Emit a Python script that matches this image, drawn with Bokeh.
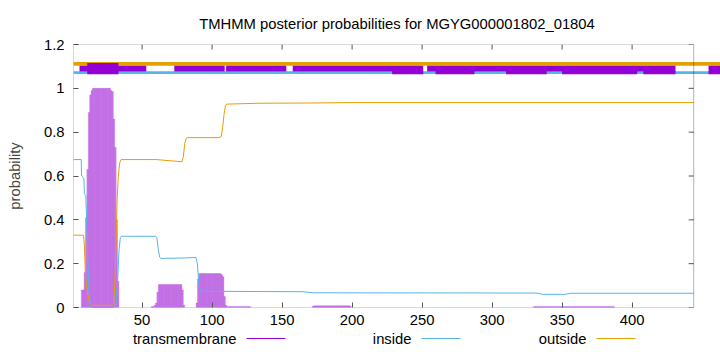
from bokeh.plotting import figure
from bokeh.models import Range1d, FixedTicker, LinearAxis, BoxAnnotation
from bokeh.layouts import column
from bokeh.core.properties import value
from bokeh.embed import file_html
from bokeh.resources import INLINE

# ---------------- data ----------------
title_text = "TMHMM posterior probabilities for MGYG000001802_01804"
seq_len = 444
x_ticks = [50, 100, 150, 200, 250, 300, 350, 400]
y_ticks = [0, 0.2, 0.4, 0.6, 0.8, 1.0, 1.2]
y_tick_labels = ["0", "0.2", "0.4", "0.6", "0.8", "1", "1.2"]
legend_names = ["transmembrane", "inside", "outside"]

# transmembrane posterior (impulses)
tm_pos_1 = list(range(7, 34))
tm_prob_1 = [0.08, 0.08, 0.16, 0.41, 0.63, 0.89, 0.97, 0.99,
             1.0, 1.0, 1.0, 1.0, 1.0, 1.0, 1.0, 1.0, 1.0, 1.0, 1.0, 1.0, 1.0,
             0.99, 0.985, 0.86, 0.73, 0.40, 0.12]
tm_pos_2 = list(range(57, 81))
tm_prob_2 = [0.005, 0.005, 0.01, 0.02, 0.07,
             0.105, 0.105, 0.105, 0.105, 0.105, 0.105, 0.105, 0.105, 0.105,
             0.105, 0.105, 0.105, 0.105, 0.105, 0.105, 0.105, 0.105,
             0.08, 0.01]
tm_pos_3 = list(range(89, 111))
tm_prob_3 = [0.02, 0.13,
             0.155, 0.155, 0.155, 0.155, 0.155, 0.155, 0.155, 0.155,
             0.155, 0.155, 0.155, 0.155, 0.155, 0.155, 0.155, 0.155,
             0.15, 0.14, 0.05, 0.01]
tm_pos_4 = list(range(111, 128))
tm_prob_4 = [0.004, 0.004, 0.004, 0.004, 0.004, 0.004, 0.004, 0.004, 0.004,
             0.004, 0.004, 0.004, 0.004, 0.004, 0.004, 0.004, 0.004]
tm_pos_5 = list(range(172, 200))
tm_prob_5 = [0.006, 0.008, 0.008, 0.008, 0.008, 0.008, 0.008, 0.008, 0.008, 0.008,
             0.008, 0.008, 0.008, 0.008, 0.008, 0.008, 0.008, 0.008, 0.008, 0.008,
             0.008, 0.008, 0.008, 0.008, 0.008, 0.008, 0.008, 0.006]
tm_pos_6 = list(range(330, 388))
tm_prob_6 = [0.004, 0.004, 0.004, 0.004, 0.004, 0.004, 0.004, 0.004, 0.004, 0.004,
             0.004, 0.004, 0.004, 0.004, 0.004, 0.004, 0.004, 0.004, 0.004, 0.004,
             0.004, 0.004, 0.004, 0.004, 0.004, 0.004, 0.004, 0.004, 0.004, 0.004,
             0.004, 0.004, 0.004, 0.004, 0.004, 0.004, 0.004, 0.004, 0.004, 0.004,
             0.004, 0.004, 0.004, 0.004, 0.004, 0.004, 0.004, 0.004, 0.004, 0.004,
             0.004, 0.004, 0.004, 0.004, 0.004, 0.004, 0.004, 0.004]
tm_pos = tm_pos_1 + tm_pos_2 + tm_pos_3 + tm_pos_4 + tm_pos_5 + tm_pos_6
tm_prob = tm_prob_1 + tm_prob_2 + tm_prob_3 + tm_prob_4 + tm_prob_5 + tm_prob_6

# inside posterior (line)
inside_pos = [1, 6.5, 6.8, 8.4, 8.8, 9.8, 10.3, 11, 12, 13, 14, 29.5, 30.5, 31.5,
              32.5, 33.5, 34.5, 35.5, 59.5, 60.5, 61.5, 62.5, 63.5, 80, 88.5, 89.5,
              90.5, 91.5, 92.5, 130, 165, 172, 332, 336, 352, 356, 444]
inside_prob = [0.675, 0.675, 0.60, 0.59, 0.52, 0.51, 0.41, 0.25, 0.08, 0.01, 0.0,
               0.0, 0.005, 0.03, 0.12, 0.26, 0.32, 0.325, 0.325, 0.32, 0.27, 0.23,
               0.224, 0.226, 0.228, 0.2, 0.11, 0.078, 0.074, 0.073, 0.072, 0.067,
               0.066, 0.06, 0.06, 0.065, 0.065]

# outside posterior (line)
outside_pos = [1, 8.2, 8.8, 9.5, 10.5, 11.5, 12.5, 14, 29, 29.8, 30.6, 31.4, 32.2,
               33, 34, 35, 60, 78.5, 79.5, 80.5, 81.5, 82.5, 105, 106.5, 107.5,
               108.5, 109.5, 110.5, 134, 170, 200, 444]
outside_prob = [0.33, 0.33, 0.28, 0.15, 0.09, 0.05, 0.02, 0.01, 0.01, 0.03, 0.12,
                0.3, 0.5, 0.6, 0.66, 0.675, 0.675, 0.665, 0.69, 0.75, 0.772, 0.775,
                0.775, 0.78, 0.82, 0.88, 0.92, 0.928, 0.932, 0.933, 0.935, 0.935]

# topology bands at the top (start/end residues)
outside_band_start = [1]
outside_band_end = [463.2]
inside_band_start = [1]
inside_band_end = [463.2]
tm_band_start = [5.3, 73, 110, 157.6, 253.6, 454.6]
tm_band_end = [53, 109, 153, 250.8, 431, 463.2]
tm_cover_start = [228.6, 259.6, 310, 350, 408, 454.6]
tm_cover_end = [250.8, 287.4, 339, 403.6, 431, 463.2]
tm_block_start = [10.8]
tm_block_end = [33.1]

# ---------------- styling ----------------
FONT = "Liberation Sans"
FS = "14.8px"
C_TM = "#9400d3"
C_IN = "#56b4e9"
C_OUT = "#e69f00"
TICK = "#555555"

p = figure(width=720, height=330, x_range=Range1d(1, 463.14), y_range=Range1d(0, 1.2),
           output_backend="svg", toolbar_location=None,
           x_axis_type=None, y_axis_type=None,
           min_border_left=73, min_border_right=0, min_border_top=44, min_border_bottom=23)
p.outline_line_color = None
p.background_fill_color = "white"
p.border_fill_color = "white"

p.title.text = title_text
p.title.align = "center"
p.title.offset = -13.5
p.title.standoff = 26
p.title.text_font = FONT
p.title.text_font_size = FS
p.title.text_font_style = "normal"
p.title.text_color = "black"

def style_axis(ax):
    ax.axis_line_color = None
    ax.major_tick_in = 5
    ax.major_tick_out = 0
    ax.major_tick_line_color = TICK
    ax.minor_tick_line_color = None
    ax.major_label_text_font = FONT
    ax.major_label_text_font_size = FS
    ax.major_label_text_color = "black"

xb = LinearAxis(ticker=FixedTicker(ticks=x_ticks))
style_axis(xb)
xb.major_label_standoff = 7
p.add_layout(xb, "below")

yl = LinearAxis(ticker=FixedTicker(ticks=y_ticks))
style_axis(yl)
yl.major_label_standoff = 9
yl.major_label_overrides = {t: s for t, s in zip(y_ticks, y_tick_labels)}
yl.axis_label = "probability"
yl.axis_label_text_font = FONT
yl.axis_label_text_font_size = FS
yl.axis_label_text_font_style = "normal"
yl.axis_label_standoff = 18
p.add_layout(yl, "left")

# plot box (ends at sequence length) with mirrored tick marks
p.add_layout(BoxAnnotation(left=1, right=seq_len, bottom=0, top=1.2,
                           fill_color=None, line_color="black", line_width=1))
tick_dy = 5 / 219.2
tick_dx = 5 / 1.4
p.segment(x0=x_ticks, x1=x_ticks, y0=[1.2] * len(x_ticks), y1=[1.2 - tick_dy] * len(x_ticks),
          line_color=TICK, line_width=1)
p.segment(x0=[seq_len] * len(y_ticks), x1=[seq_len - tick_dx] * len(y_ticks), y0=y_ticks, y1=y_ticks,
          line_color=TICK, line_width=1)

# transmembrane impulses
p.vbar(x=tm_pos, top=tm_prob, bottom=0, width=1.0, fill_color=C_TM, fill_alpha=0.45,
       line_color=C_TM, line_alpha=0.35, line_width=0.5)
# lines
p.line(inside_pos, inside_prob, line_color=C_IN, line_width=1)
p.line(outside_pos, outside_prob, line_color=C_OUT, line_width=1)

# topology bands
p.segment(x0=outside_band_start, x1=outside_band_end, y0=[1.1114], y1=[1.1114],
          line_color=C_OUT, line_width=3.8, line_cap="butt")
p.segment(x0=inside_band_start, x1=inside_band_end, y0=[1.0717], y1=[1.0717],
          line_color=C_IN, line_width=2.6, line_cap="butt")
p.segment(x0=tm_band_start, x1=tm_band_end, y0=[1.0895] * len(tm_band_start),
          y1=[1.0895] * len(tm_band_start), line_color=C_TM, line_width=5.8, line_cap="butt")
p.segment(x0=tm_cover_start, x1=tm_cover_end, y0=[1.0717] * len(tm_cover_start),
          y1=[1.0717] * len(tm_cover_start), line_color=C_TM, line_width=3.2, line_cap="butt")
p.segment(x0=tm_block_start, x1=tm_block_end, y0=[1.0897], y1=[1.0897],
          line_color=C_TM, line_width=11.3, line_cap="butt")

# ---------------- key strip (gnuplot style: text then sample) ----------------
# its frame is aligned with the main frame (canvas x 73..720), so the range is in canvas pixels
leg = figure(width=720, height=22, x_range=Range1d(73, 720), y_range=Range1d(0, 22),
             output_backend="svg", toolbar_location=None, x_axis_type=None, y_axis_type=None,
             min_border_left=0, min_border_right=0, min_border_top=0, min_border_bottom=0)
leg.outline_line_color = None
leg.grid.visible = False
leg_text_right = [236, 411, 586]
leg_line_x0 = [246, 421, 596]
leg_line_x1 = [285, 460, 635]
leg_y = [14, 14, 14]
leg_colors = [C_TM, C_IN, C_OUT]
leg.text(x=leg_text_right, y=leg_y, text=legend_names, text_align="right",
         text_baseline="middle", text_font=value(FONT), text_font_size=value(FS),
         text_color="black")
for x0, x1, yy, col in zip(leg_line_x0, leg_line_x1, leg_y, leg_colors):
    leg.segment(x0=[x0], x1=[x1], y0=[yy], y1=[yy], line_color=col, line_width=1)

layout = column(p, leg, spacing=0)
open("out.html", "w").write(file_html(layout, INLINE))
